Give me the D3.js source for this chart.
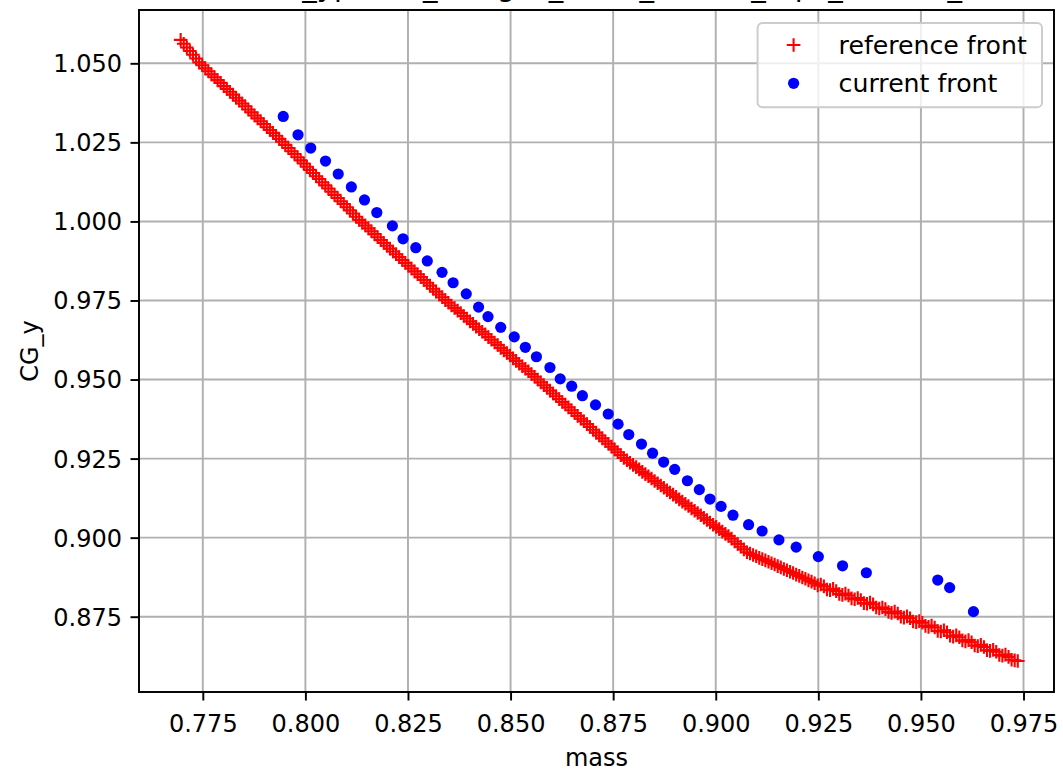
<!DOCTYPE html>
<html>
<head>
<meta charset="utf-8">
<script src="https://cdn.jsdelivr.net/npm/d3@7"></script>
<style>
  body { margin: 0; background: #fff; }
  svg text { font-family: "DejaVu Sans", sans-serif; fill: #000; }
</style>
</head>
<body>
<div id="chart"></div>
<script>
// reference front (red +), read along the band in two passes
var refMassA = [0.7696, 0.7711, 0.7726, 0.7741, 0.7756, 0.7771, 0.7786, 0.7801, 0.7816, 0.7831,
  0.7846, 0.7861, 0.7876, 0.7891, 0.7906, 0.7921, 0.7936, 0.7951, 0.7966, 0.7981,
  0.7996, 0.8011, 0.8026, 0.8041, 0.8056, 0.8071, 0.8086, 0.8101, 0.8116, 0.8131,
  0.8146, 0.8161, 0.8176, 0.8191, 0.8206, 0.8221, 0.8236, 0.8251, 0.8266, 0.8281,
  0.8296, 0.8311, 0.8326, 0.8341, 0.8356, 0.8371, 0.8386, 0.8401, 0.8416, 0.8431,
  0.8446, 0.8461, 0.8476, 0.8491, 0.8506, 0.8521, 0.8536, 0.8551, 0.8566, 0.8581,
  0.8596, 0.8611, 0.8626, 0.8641, 0.8656, 0.8671, 0.8686, 0.8701, 0.8716, 0.8731,
  0.8746, 0.8761, 0.8776, 0.8791, 0.8806, 0.8821, 0.8836, 0.8851, 0.8866, 0.8881,
  0.8896, 0.8911, 0.8926, 0.8941, 0.8956, 0.8971, 0.8986, 0.9001, 0.9016, 0.9031,
  0.9046, 0.9061, 0.9076, 0.9091, 0.9106, 0.9121, 0.9136, 0.9151, 0.9166, 0.9181,
  0.9196, 0.9211, 0.9226, 0.9241, 0.9256, 0.9271, 0.9286, 0.9301, 0.9316, 0.9331,
  0.9346, 0.9361, 0.9376, 0.9391, 0.9406, 0.9421, 0.9436, 0.9451, 0.9466, 0.9481,
  0.9496, 0.9511, 0.9526, 0.9541, 0.9556, 0.9571, 0.9586, 0.9601, 0.9616, 0.9631,
  0.9646, 0.9661, 0.9676, 0.9691, 0.9706, 0.9721, 0.9736];
var refCGyA = [1.0574, 1.0550, 1.0527, 1.0503, 1.0484, 1.0465, 1.0447, 1.0428, 1.0410, 1.0391,
  1.0373, 1.0354, 1.0335, 1.0317, 1.0298, 1.0280, 1.0261, 1.0242, 1.0222, 1.0203,
  1.0183, 1.0163, 1.0143, 1.0124, 1.0104, 1.0084, 1.0064, 1.0045, 1.0025, 1.0005,
  0.9987, 0.9969, 0.9950, 0.9932, 0.9914, 0.9896, 0.9878, 0.9860, 0.9842, 0.9824,
  0.9806, 0.9787, 0.9769, 0.9751, 0.9734, 0.9718, 0.9701, 0.9684, 0.9667, 0.9651,
  0.9634, 0.9617, 0.9600, 0.9584, 0.9567, 0.9550, 0.9534, 0.9517, 0.9500, 0.9482,
  0.9465, 0.9447, 0.9429, 0.9412, 0.9394, 0.9376, 0.9359, 0.9341, 0.9323, 0.9305,
  0.9288, 0.9270, 0.9252, 0.9237, 0.9223, 0.9208, 0.9194, 0.9179, 0.9165, 0.9150,
  0.9136, 0.9121, 0.9107, 0.9092, 0.9078, 0.9063, 0.9048, 0.9034, 0.9019, 0.9005,
  0.8988, 0.8971, 0.8954, 0.8945, 0.8936, 0.8928, 0.8919, 0.8910, 0.8901, 0.8892,
  0.8883, 0.8874, 0.8865, 0.8856, 0.8852, 0.8836, 0.8838, 0.8822, 0.8823, 0.8808,
  0.8809, 0.8793, 0.8795, 0.8779, 0.8779, 0.8765, 0.8766, 0.8750, 0.8751, 0.8735,
  0.8736, 0.8721, 0.8722, 0.8705, 0.8707, 0.8690, 0.8691, 0.8675, 0.8676, 0.8659,
  0.8661, 0.8644, 0.8645, 0.8629, 0.8630, 0.8614, 0.8610];
var refMassB = [0.77035, 0.77185, 0.77335, 0.77485, 0.77635, 0.77785, 0.77935, 0.78085, 0.78235, 0.78385,
  0.78535, 0.78685, 0.78835, 0.78985, 0.79135, 0.79285, 0.79435, 0.79585, 0.79735, 0.79885,
  0.80035, 0.80185, 0.80335, 0.80485, 0.80635, 0.80785, 0.80935, 0.81085, 0.81235, 0.81385,
  0.81535, 0.81685, 0.81835, 0.81985, 0.82135, 0.82285, 0.82435, 0.82585, 0.82735, 0.82885,
  0.83035, 0.83185, 0.83335, 0.83485, 0.83635, 0.83785, 0.83935, 0.84085, 0.84235, 0.84385,
  0.84535, 0.84685, 0.84835, 0.84985, 0.85135, 0.85285, 0.85435, 0.85585, 0.85735, 0.85885,
  0.86035, 0.86185, 0.86335, 0.86485, 0.86635, 0.86785, 0.86935, 0.87085, 0.87235, 0.87385,
  0.87535, 0.87685, 0.87835, 0.87985, 0.88135, 0.88285, 0.88435, 0.88585, 0.88735, 0.88885,
  0.89035, 0.89185, 0.89335, 0.89485, 0.89635, 0.89785, 0.89935, 0.90085, 0.90235, 0.90385,
  0.90535, 0.90685, 0.90835, 0.90985, 0.91135, 0.91285, 0.91435, 0.91585, 0.91735, 0.91885,
  0.92035, 0.92185, 0.92335, 0.92485, 0.92635, 0.92785, 0.92935, 0.93085, 0.93235, 0.93385,
  0.93535, 0.93685, 0.93835, 0.93985, 0.94135, 0.94285, 0.94435, 0.94585, 0.94735, 0.94885,
  0.95035, 0.95185, 0.95335, 0.95485, 0.95635, 0.95785, 0.95935, 0.96085, 0.96235, 0.96385,
  0.96535, 0.96685, 0.96835, 0.96985, 0.97135, 0.97285];
var refCGyB = [1.0562, 1.0539, 1.0515, 1.0494, 1.0475, 1.0456, 1.0438, 1.0419, 1.0401, 1.0382,
  1.0364, 1.0345, 1.0326, 1.0308, 1.0289, 1.0271, 1.0252, 1.0232, 1.0213, 1.0193,
  1.0173, 1.0153, 1.0134, 1.0114, 1.0094, 1.0074, 1.0055, 1.0035, 1.0015, 0.9996,
  0.9978, 0.9960, 0.9941, 0.9923, 0.9905, 0.9887, 0.9869, 0.9851, 0.9833, 0.9815,
  0.9797, 0.9778, 0.9760, 0.9743, 0.9726, 0.9710, 0.9693, 0.9676, 0.9659, 0.9643,
  0.9626, 0.9609, 0.9592, 0.9576, 0.9559, 0.9542, 0.9526, 0.9509, 0.9491, 0.9474,
  0.9456, 0.9438, 0.9421, 0.9403, 0.9385, 0.9368, 0.9350, 0.9332, 0.9314, 0.9297,
  0.9279, 0.9261, 0.9245, 0.9230, 0.9216, 0.9201, 0.9187, 0.9172, 0.9158, 0.9143,
  0.9129, 0.9114, 0.9100, 0.9085, 0.9071, 0.9056, 0.9041, 0.9027, 0.9012, 0.8997,
  0.8980, 0.8963, 0.8950, 0.8941, 0.8932, 0.8924, 0.8915, 0.8906, 0.8897, 0.8888,
  0.8879, 0.8870, 0.8861, 0.8849, 0.8846, 0.8834, 0.8831, 0.8819, 0.8817, 0.8805,
  0.8803, 0.8791, 0.8789, 0.8776, 0.8774, 0.8762, 0.8760, 0.8747, 0.8745, 0.8733,
  0.8731, 0.8718, 0.8716, 0.8703, 0.8701, 0.8687, 0.8685, 0.8672, 0.8669, 0.8657,
  0.8654, 0.8642, 0.8639, 0.8627, 0.8623, 0.8612];

// current front (blue dots)
var curMass = [0.7946, 0.7982, 0.8013, 0.8049, 0.8080, 0.8112, 0.8144, 0.8174, 0.8212, 0.8238,
  0.8269, 0.8297, 0.8333, 0.8360, 0.8392, 0.8422, 0.8445, 0.8476, 0.8509, 0.8536,
  0.8563, 0.8596, 0.8621, 0.8649, 0.8675, 0.8707, 0.8738, 0.8762, 0.8788, 0.8819,
  0.8846, 0.8873, 0.8900, 0.8931, 0.8960, 0.8986, 0.9013, 0.9042, 0.9080, 0.9113,
  0.9154, 0.9196, 0.9250, 0.9309, 0.9367, 0.9541, 0.9570, 0.9628];
var curCGy = [1.0332, 1.0274, 1.0232, 1.0191, 1.0150, 1.0109, 1.0068, 1.0028, 0.9986, 0.9945,
  0.9917, 0.9875, 0.9839, 0.9806, 0.9771, 0.9729, 0.9699, 0.9665, 0.9635, 0.9602,
  0.9572, 0.9538, 0.9502, 0.9479, 0.9449, 0.9420, 0.9391, 0.9359, 0.9326, 0.9296,
  0.9267, 0.9239, 0.9216, 0.9180, 0.9152, 0.9122, 0.9099, 0.9071, 0.9041, 0.9021,
  0.8993, 0.8970, 0.8940, 0.8911, 0.8889, 0.8866, 0.8842, 0.8766];

var xTicks = [0.775, 0.800, 0.825, 0.850, 0.875, 0.900, 0.925, 0.950, 0.975];
var yTicks = [0.875, 0.900, 0.925, 0.950, 0.975, 1.000, 1.025, 1.050];
var seriesNames = ["reference front", "current front"];
var titleText = "Front CG_ypoints_designs_mass_results_tops_current_last";

var svgWidth = 1063;
var svgHeight = 772;
var margin = { top: 10, right: 9, bottom: 80, left: 139 };
var width = svgWidth - margin.left - margin.right;
var height = svgHeight - margin.top - margin.bottom;
var lw = 1.94;

var refMass = refMassA.concat(refMassB);
var refCGy = refCGyA.concat(refCGyB);
var refData = refMass.map((m, i) => ({ mass: m, cg: refCGy[i] }));
var curData = curMass.map((m, i) => ({ mass: m, cg: curCGy[i] }));

var svg = d3.select("#chart")
  .append("svg")
  .attr("width", svgWidth)
  .attr("height", svgHeight);

var chartGroup = svg.append("g")
  .attr("transform", `translate(${margin.left}, ${margin.top})`);

var xScale = d3.scaleLinear()
  .domain([0.75945, 0.98243])
  .range([0, width]);

var yScale = d3.scaleLinear()
  .domain([0.85119, 1.06686])
  .range([height, 0]);

// grid
chartGroup.append("g").selectAll("line")
  .data(xTicks)
  .enter()
  .append("line")
  .attr("x1", d => xScale(d)).attr("x2", d => xScale(d))
  .attr("y1", 0).attr("y2", height)
  .attr("stroke", "#b0b0b0")
  .attr("stroke-width", lw);

chartGroup.append("g").selectAll("line")
  .data(yTicks)
  .enter()
  .append("line")
  .attr("y1", d => yScale(d)).attr("y2", d => yScale(d))
  .attr("x1", 0).attr("x2", width)
  .attr("stroke", "#b0b0b0")
  .attr("stroke-width", lw);

// axes
var xAxis = chartGroup.append("g")
  .attr("transform", `translate(0, ${height})`)
  .call(d3.axisBottom(xScale)
    .tickValues(xTicks)
    .tickFormat(d3.format(".3f"))
    .tickSizeInner(8.5)
    .tickSizeOuter(0)
    .tickPadding(14));

var yAxis = chartGroup.append("g")
  .call(d3.axisLeft(yScale)
    .tickValues(yTicks)
    .tickFormat(d3.format(".3f"))
    .tickSizeInner(8.5)
    .tickSizeOuter(0)
    .tickPadding(8.5));

[xAxis, yAxis].forEach(function(ax) {
  ax.attr("font-size", null).attr("font-family", null);
  ax.select(".domain").remove();
  ax.selectAll(".tick line").attr("stroke", "#000").attr("stroke-width", lw);
  ax.selectAll(".tick text").style("font-size", "24px").attr("fill", "#000");
});
yAxis.selectAll(".tick text").attr("dy", "0.35em");

// reference front markers
var plusPath = "M-6.8,0H6.8M0,-6.8V6.8";
chartGroup.append("g").selectAll("path")
  .data(refData)
  .enter()
  .append("path")
  .attr("d", plusPath)
  .attr("transform", d => `translate(${xScale(d.mass)}, ${yScale(d.cg)})`)
  .attr("stroke", "#ff0000")
  .attr("stroke-width", 2.1)
  .attr("fill", "none");

// current front dots
chartGroup.append("g").selectAll("circle")
  .data(curData)
  .enter()
  .append("circle")
  .attr("cx", d => xScale(d.mass))
  .attr("cy", d => yScale(d.cg))
  .attr("r", 5.6)
  .attr("fill", "#0000ff");

// frame
chartGroup.append("rect")
  .attr("width", width)
  .attr("height", height)
  .attr("fill", "none")
  .attr("stroke", "#000")
  .attr("stroke-width", lw);

// labels
chartGroup.append("text")
  .attr("x", width / 2)
  .attr("y", 756)
  .attr("text-anchor", "middle")
  .style("font-size", "24px")
  .text("mass");

svg.append("text")
  .attr("transform", `translate(38, ${margin.top + height / 2}) rotate(-90)`)
  .attr("text-anchor", "middle")
  .style("font-size", "24px")
  .text("CG_y");

// title, mostly cut off by the top edge as in the original
svg.append("text")
  .attr("x", 177)
  .attr("y", -4.5)
  .style("font-size", "29px")
  .text(titleText);

// legend
var legend = chartGroup.append("g")
  .attr("transform", `translate(${width - 12 - 284.4}, 13)`);

legend.append("rect")
  .attr("width", 284.4)
  .attr("height", 84.3)
  .attr("rx", 4.9)
  .attr("fill", "#fff")
  .attr("fill-opacity", 0.8)
  .attr("stroke", "#cccccc")
  .attr("stroke-width", lw);

legend.append("path")
  .attr("d", plusPath)
  .attr("transform", "translate(36, 22)")
  .attr("stroke", "#ff0000")
  .attr("stroke-width", 2.1);

legend.append("circle")
  .attr("cx", 36)
  .attr("cy", 60.3)
  .attr("r", 5.6)
  .attr("fill", "#0000ff");

legend.selectAll("text")
  .data(seriesNames)
  .enter()
  .append("text")
  .attr("x", 81)
  .attr("y", (d, i) => 30.5 + i * 38.3)
  .style("font-size", "25.2px")
  .text(d => d);
</script>
</body>
</html>
